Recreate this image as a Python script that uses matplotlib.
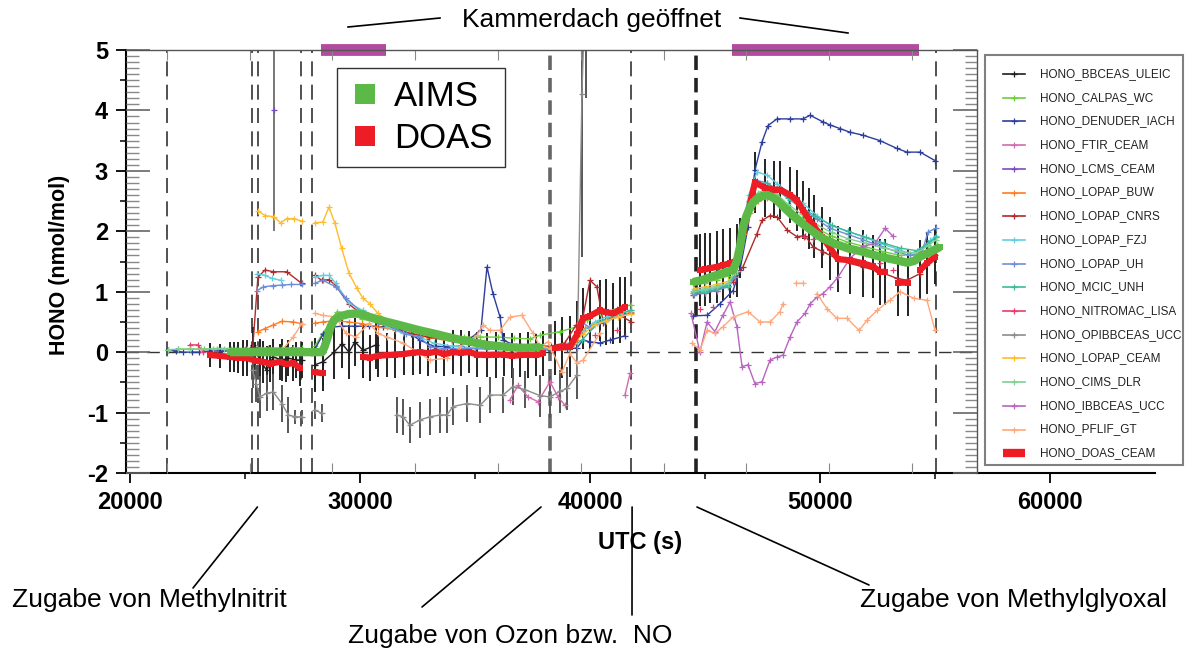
import numpy as np
import matplotlib
matplotlib.use("Agg")
import matplotlib.pyplot as plt
from matplotlib.lines import Line2D
from matplotlib.patches import Rectangle
from matplotlib.ticker import MultipleLocator

plt.rcParams['font.family'] = ['Liberation Sans', 'DejaVu Sans']
plt.rcParams['axes.unicode_minus'] = False

nan = np.nan
GAP = (nan, nan)

# ---- HONO time series: (UTC seconds, nmol/mol) ----
lopap_ceam = [(25560, 2.34), (25870, 2.26), (26260, 2.24), (26550, 2.14), (26810, 2.21), (27130, 2.21), (27460, 2.17), GAP,
              (28040, 2.14), (28380, 2.15), (28650, 2.40), (28910, 2.13), (29200, 1.72), (29520, 1.31), (29860, 1.06),
              (30130, 0.89), (30430, 0.80), (30780, 0.64), (31200, 0.52), (31700, 0.45), (32300, 0.38), (33000, 0.32),
              (33800, 0.26), (34600, 0.20), (35400, 0.16), (36200, 0.14), (37000, 0.12), (37800, 0.12), (38300, 0.05),
              (38800, 0.08), (39300, 0.15), (39700, 0.30), (40200, 0.45), (40700, 0.52), (41200, 0.58), (41800, 0.63), GAP,
              (44500, 1.05), (45000, 1.08), (45500, 1.12), (46000, 1.17), (46400, 1.35), (46700, 1.95), (47000, 2.35),
              (47300, 2.55), (47700, 2.62), (48100, 2.55), (48600, 2.35), (49200, 2.15), (49800, 1.98), (50500, 1.82),
              (51200, 1.72), (52000, 1.65), (52800, 1.58), (53500, 1.53), (54200, 1.55), (54700, 1.68), (55100, 1.78)]

lopap_fzj = [(25530, 1.30), (25870, 1.27), (26170, 1.22), (26550, 1.19), GAP,
             (28040, 1.24), (28380, 1.27), (28650, 1.27), (28950, 1.14), (29520, 0.81), (30130, 0.69), (30430, 0.58),
             (31170, 0.42), (31870, 0.31), (32610, 0.25), (33200, 0.15), (34000, 0.10), (35000, 0.07), (36000, 0.06),
             (37000, 0.05), (38000, 0.05), (38800, 0.10), (39300, 0.20), (39700, 0.35), (40200, 0.50), (40700, 0.58),
             (41300, 0.65), (41800, 0.70), GAP,
             (44500, 1.00), (45000, 1.03), (45500, 1.07), (46000, 1.12), (46300, 1.30), (46600, 2.00), (46900, 2.60),
             (47260, 2.98), (47700, 2.93), (48130, 2.79), (48700, 2.62), (49260, 2.46), (49870, 2.26), (50430, 2.10),
             (51200, 2.00), (51870, 1.91), (52600, 1.80), (53350, 1.71), (53900, 1.63), (54350, 1.69), (54800, 1.85),
             (55050, 1.93)]

lopap_uh = [(25530, 1.02), (25800, 1.08), (26200, 1.10), (26600, 1.11), (27000, 1.12), (27460, 1.12), GAP,
            (28040, 1.14), (28380, 1.19), (28950, 1.08), (29400, 0.89), (30130, 0.64), (30800, 0.50), (31500, 0.40),
            (32000, 0.30), (32600, 0.25), (33040, 0.09), (33600, 0.06), (34500, 0.06), (35500, 0.05), (36500, 0.05),
            (37500, 0.05), (38300, 0.05), (39000, 0.10), (39300, 0.15), (39650, 0.50), (40000, 0.40), (40600, 0.50),
            (41200, 0.58), (41800, 0.65), GAP,
            (44500, 0.95), (45000, 0.98), (45500, 1.02), (46000, 1.08), (46300, 1.25), (46600, 1.90), (46900, 2.50),
            (47260, 2.84), (47700, 2.80), (48130, 2.68), (48700, 2.52), (49260, 2.36), (49870, 2.20), (50430, 2.05),
            (51200, 1.95), (51870, 1.86), (52600, 1.76), (53350, 1.66), (53900, 1.60), (54400, 1.62), (54700, 1.99),
            (55050, 2.05)]

lopap_cnrs = [(25340, 0.09), (25560, 1.24), (25870, 1.36), (26230, 1.33), (26810, 1.33), (27460, 1.14), GAP,
              (28040, 1.27), (28330, 1.19), (28650, 1.20), (28950, 1.10), (29500, 0.80), (30100, 0.62), (30800, 0.48),
              (31500, 0.38), (32300, 0.30), (33000, 0.25), (34000, 0.20), (35000, 0.15), (36000, 0.12), (37000, 0.10),
              (37800, 0.10), (38300, 0.10), (38900, 0.15), (39400, 0.45), (39700, 0.60), (40000, 1.19), (40300, 1.08),
              (40580, 0.48), (41170, 0.64), (41800, 0.50), GAP,
              (44480, 0.95), (45000, 0.98), (45500, 1.02), (46220, 1.16), (46650, 1.41), (47260, 1.96), (47480, 2.18),
              (47830, 2.26), (48130, 2.24), (48570, 2.02), (49000, 1.91), (49350, 1.93), (49700, 1.74), (50130, 1.66),
              (50780, 1.54), (51300, 1.47), (51870, 1.41), (52600, 1.33), (53350, 1.22), (53780, 1.19), (54350, 1.30),
              (55000, 1.60)]

lopap_buw = [(25560, 0.34), (25870, 0.39), (26230, 0.45), (26600, 0.51), (27100, 0.50), (27460, 0.47), GAP,
             (28040, 0.48), (28400, 0.50), (28900, 0.52), (29500, 0.50), (30100, 0.47), (30800, 0.42), (31500, 0.37),
             (32300, 0.30), (33000, 0.24), (34000, 0.18), (35000, 0.15), (36000, 0.12), (37000, 0.10), (37800, 0.08),
             (38300, 0.05), (38900, 0.08), (39400, 0.20), (39800, 0.40), (40300, 0.48), (40800, 0.55), (41300, 0.60),
             (41800, 0.66), GAP,
             (44500, 1.00), (45000, 1.03), (45500, 1.06), (46000, 1.10), (46300, 1.30), (46600, 1.90), (46950, 2.30),
             (47300, 2.50), (47700, 2.55), (48100, 2.50), (48600, 2.30), (49200, 2.10), (49800, 1.95), (50500, 1.80),
             (51200, 1.70), (52000, 1.62), (52800, 1.55), (53500, 1.50), (54200, 1.52), (54700, 1.62), (55050, 1.72)]

denuder_iach = [(21650, 0.03), (22000, 0.02), (22300, 0.00), (22700, 0.00), (23000, 0.00), (23500, 0.02), (24000, 0.02),
                (24500, 0.02), (25000, 0.03), (25500, 0.03), (26000, 0.03), (26500, 0.03), (27000, 0.03), (27460, 0.03), GAP,
                (28040, 0.05), (28400, 0.30), (28700, 0.41), (29200, 0.43), (29800, 0.43), (30400, 0.43), (31000, 0.42),
                (31600, 0.40), (32200, 0.30), (32600, 0.20), (33200, 0.10), (33800, 0.09), (34400, 0.10), (35260, 0.37),
                (35520, 1.41), (35780, 0.97), (36090, 0.58), (36220, 0.20), (36800, 0.10), (37400, 0.08), (37900, 0.05),
                (38300, 0.03), (39000, 0.05), (39430, 0.07), (39700, 0.20), (40000, 0.17), (40430, 0.15), (40870, 0.20),
                (41520, 0.27), GAP,
                (44480, 0.60), (45090, 0.61), (45650, 0.80), (46220, 1.02), (46520, 1.36), (46870, 2.07), (47170, 3.01),
                (47480, 3.48), (47740, 3.75), (48130, 3.86), (48700, 3.86), (49260, 3.86), (49570, 3.92), (50130, 3.81),
                (50430, 3.76), (50870, 3.70), (51300, 3.64), (51870, 3.59), (52610, 3.50), (53350, 3.37), (53780, 3.31),
                (54350, 3.31), (55000, 3.17)]

calpas_wc = [(22100, 0.05), (22600, 0.05), (23200, 0.05), (23800, 0.06), (24400, 0.06), (25000, 0.06), (25500, 0.07),
             (26000, 0.07), (26600, 0.07), (27100, 0.07), (27460, 0.07), GAP,
             (28040, 0.10), (28380, 0.31), (29000, 0.67), (29520, 0.64), (30100, 0.55), (30800, 0.48), (31500, 0.42),
             (32300, 0.35), (33000, 0.30), (33800, 0.27), (34500, 0.25), (35200, 0.25), (36000, 0.25), (36700, 0.23),
             (37400, 0.22), (37830, 0.28), (38700, 0.34), (39430, 0.42), (39870, 0.53), (40430, 0.64), (41170, 0.72),
             (41780, 0.78), GAP,
             (44480, 1.12), (45000, 1.15), (45500, 1.20), (46000, 1.26), (46300, 1.45), (46600, 2.00), (46950, 2.45),
             (47300, 2.62), (47700, 2.68), (48100, 2.60), (48600, 2.42), (49200, 2.22), (49800, 2.06), (50500, 1.92),
             (51200, 1.82), (52000, 1.74), (52800, 1.66), (53500, 1.60), (54200, 1.62), (54700, 1.78), (55050, 1.91)]

mcic_unh = [(38300, 0.06), (39100, 0.05), (39650, 0.20), (40400, 0.50), (41200, 0.62), (41800, 0.69), GAP,
            (44480, 0.98), (45000, 1.00), (45500, 1.04), (46000, 1.10), (46300, 1.30), (46600, 1.95), (46950, 2.50),
            (47300, 2.78), (47700, 2.80), (48100, 2.70), (48600, 2.55), (49200, 2.40), (49800, 2.25), (50500, 2.10),
            (51200, 2.00), (52000, 1.90), (52800, 1.80), (53500, 1.72), (54200, 1.68), (54700, 1.80), (55050, 1.90)]

cims_dlr = [(21650, 0.04), (22100, 0.05), (22600, 0.05), (23100, 0.05), (23600, 0.06), (24100, 0.06), (24600, 0.06),
            (25100, 0.06), GAP,
            (44480, 1.02), (45000, 1.05), (45500, 1.09), (46000, 1.14), (46300, 1.32), (46600, 1.95), (46950, 2.40),
            (47300, 2.64), (47700, 2.70), (48100, 2.62), (48600, 2.45), (49200, 2.28), (49800, 2.12), (50500, 1.98),
            (51200, 1.88), (52000, 1.80), (52800, 1.72), (53500, 1.66), (54200, 1.64), (54700, 1.76), (55050, 1.86)]

pflif_gt = [(26590, 0.03), (27100, 0.25), (27460, 0.47), GAP,
            (28040, 0.64), (28380, 0.61), (28950, 0.58), (29390, 0.31), (29820, 0.25), (30390, 0.48), (30780, 0.31),
            (31170, 0.25), (31870, 0.15), (32610, -0.02), (33040, -0.13), (33780, -0.10), (34350, 0.09), (35090, 0.28),
            (35350, 0.45), (35650, 0.36), (36090, 0.36), (36520, 0.58), (37040, 0.61), (37520, 0.31), (37830, 0.09),
            (38170, 0.17), (38780, -0.33), (39130, -0.02), (39430, -0.18), (39700, -0.13), (40430, 0.31), GAP,
            (44440, 0.15), (44780, 0.03), (45090, 0.36), (45430, 0.31), (45780, 0.42), (46220, 0.58), (46870, 0.67),
            (47390, 0.50), (47830, 0.50), (48260, 0.67), (48390, 0.80), GAP, (48960, 1.14), (49260, 1.14), GAP,
            (49870, 0.97), (50300, 0.72), (50740, 0.56), (51180, 0.56), (51700, 0.36), (52050, 0.53), (52480, 0.69),
            (53040, 0.86), (53480, 1.00), (54090, 0.89), (54650, 0.86), (55000, 0.36)]

ftir_ceam = [(36520, -0.79), (36870, -0.55), (37300, -0.74), (37740, -0.82), (38260, -0.49), (38610, -0.74),
             (38910, -0.88), GAP, (41520, -0.71), (41740, -0.35)]

ibbceas_ucc = [(44390, 0.64), (44780, 0.00), (45090, 0.50), (45430, 0.34), (45780, 0.61), (46090, 0.83), (46390, 0.42),
               (46610, -0.24), (46870, -0.21), (47170, -0.52), (47480, -0.49), (47830, -0.13), (48130, -0.08),
               (48390, -0.05), (48700, 0.25), (49000, 0.50), (49350, 0.64), (49570, 0.80), (49870, 0.91), (50130, 0.97),
               (50430, 1.08), (50780, 1.24), (51300, 1.55), (51870, 1.75), (52390, 1.80), (52830, 2.05), (53170, 1.92)]

nitromac_lisa = [(22600, 0.12), (22960, 0.12), (23170, 0.00), GAP, (40220, 0.28), GAP, (41170, 0.36), GAP,
                 (44780, 0.72), GAP, (45350, 0.75), GAP, (49300, 1.91), GAP, (49700, 1.88), GAP, (52600, 1.47), GAP,
                 (53170, 1.36), GAP, (54350, 1.66)]

# series with error bars: (UTC seconds, nmol/mol, error)
lcms_ceam = [(26260, 4.00, 2.0)]

bbceas_uleic = [(24500, -0.08, 0.25), (24900, -0.10, 0.30), (25340, 0.12, 0.30), (25650, -0.13, 0.35),
                (25940, -0.30, 0.40), (26230, -0.08, 0.30), (26600, -0.13, 0.35), (26880, -0.10, 0.30),
                (27230, -0.13, 0.30), (27460, -0.13, 0.30), (nan, nan, nan),
                (28040, -0.21, 0.45), (28390, -0.16, 0.40), (28870, 0.00, 0.45), (29220, 0.14, 0.40),
                (29520, 0.00, 0.45), (29780, 0.17, 0.40), (30130, 0.03, 0.45), (30700, 0.12, 0.40)]

opibbceas_ucc = [(25340, -0.30, 0.30), (25490, -0.52, 0.30), (25650, -0.74, 0.35), (25940, -0.68, 0.30),
                 (26230, -0.66, 0.30), (26600, -0.85, 0.30), (26880, -1.04, 0.30), (27170, -1.07, 0.12),
                 (27460, -1.07, 0.12), (nan, nan, nan), (28040, -0.96, 0.15), (28330, -1.01, 0.15), (nan, nan, nan),
                 (31610, -1.04, 0.30), (31870, -1.07, 0.30), (32170, -1.21, 0.30), (32610, -1.12, 0.30),
                 (33040, -1.07, 0.30), (33480, -1.04, 0.30), (33780, -1.04, 0.30), (34040, -0.90, 0.30),
                 (34650, -0.85, 0.30), (35220, -0.88, 0.30), (35650, -0.71, 0.30), (36220, -0.71, 0.30),
                 (36650, -0.57, 0.30), (37170, -0.62, 0.30), (37830, -0.72, 0.35), (38260, -0.74, 0.35),
                 (38700, -0.65, 0.35), (39000, -0.60, 0.35), (39430, -0.38, 0.40), (39650, 4.28, 2.70),
                 (39830, 6.50, 2.30)]

doas_ceam = [(23480, -0.05, 0.20), (23900, -0.06, 0.20), (24350, -0.08, 0.25), (24700, -0.09, 0.25),
             (25090, -0.10, 0.30), (25450, -0.14, 0.30), (25780, -0.16, 0.35), (26100, -0.19, 0.30),
             (26520, -0.16, 0.30), (26800, -0.20, 0.30), (27090, -0.18, 0.30), (27390, -0.26, 0.30), (nan, nan, nan),
             (28040, -0.33, 0.30), (28390, -0.35, 0.30), (nan, nan, nan),
             (30130, -0.08, 0.35), (30450, -0.09, 0.38), (30800, -0.06, 0.35), (31170, -0.05, 0.36),
             (31500, -0.04, 0.38), (31900, -0.03, 0.35), (32300, -0.01, 0.37), (32610, 0.00, 0.36),
             (32950, -0.02, 0.38), (33300, 0.01, 0.35), (33650, -0.03, 0.37), (34040, 0.00, 0.36),
             (34400, -0.01, 0.38), (34750, 0.00, 0.35), (35100, -0.04, 0.37), (35520, -0.05, 0.36),
             (35900, -0.04, 0.38), (36250, -0.04, 0.35), (36600, -0.06, 0.37), (36960, -0.05, 0.36),
             (37300, -0.04, 0.38), (37650, -0.05, 0.35), (37960, -0.02, 0.37), (nan, nan, nan),
             (38480, 0.07, 0.45), (38800, 0.08, 0.50), (39130, 0.09, 0.50), (39450, 0.30, 0.55), (39700, 0.56, 0.50),
             (40000, 0.60, 0.55), (40430, 0.69, 0.50), (40700, 0.66, 0.55), (41000, 0.64, 0.50), (41300, 0.70, 0.55),
             (41520, 0.75, 0.50), (nan, nan, nan),
             (44780, 1.36, 0.60), (45000, 1.37, 0.60), (45220, 1.39, 0.58), (45500, 1.41, 0.60), (45780, 1.44, 0.60),
             (46100, 1.47, 0.58), (46390, 1.52, 0.60), (46520, 1.72, 0.50), (47170, 2.81, 0.50), (47600, 2.72, 0.48),
             (48000, 2.69, 0.47), (48260, 2.69, 0.48), (48700, 2.60, 0.47), (49000, 2.51, 0.50), (49260, 2.35, 0.48),
             (49500, 2.21, 0.50), (49740, 2.08, 0.52), (50100, 1.90, 0.50), (50450, 1.72, 0.52), (50780, 1.54, 0.55),
             (51300, 1.52, 0.55), (51870, 1.47, 0.55), (52300, 1.42, 0.52), (52610, 1.33, 0.55), (52830, 1.33, 0.55),
             (nan, nan, nan), (53390, 1.15, 0.55), (53830, 1.15, 0.55), (nan, nan, nan),
             (54350, 1.36, 0.50), (54650, 1.47, 0.50), (55000, 1.58, 0.45)]

aims = [(24350, 0.00), (25000, 0.00), (26000, 0.00), (27000, 0.00), (28000, 0.00), (28350, 0.00), (28450, 0.08),
        (28600, 0.25), (28720, 0.42), (28870, 0.53), (29050, 0.58), (29200, 0.60), (29500, 0.63), (29850, 0.64),
        (30150, 0.62), (30430, 0.58), (30800, 0.54), (31170, 0.50), (31600, 0.46), (32000, 0.42), (32600, 0.36),
        (33300, 0.30), (34040, 0.23), (34800, 0.17), (35520, 0.12), (36300, 0.09), (36960, 0.07), (37830, 0.08), GAP,
        (44480, 1.16), (44850, 1.19), (45220, 1.24), (45700, 1.30), (46220, 1.36), (46380, 1.50), (46520, 1.74),
        (46650, 2.07), (46800, 2.25), (46960, 2.40), (47100, 2.48), (47260, 2.54), (47480, 2.58), (47700, 2.60),
        (47900, 2.57), (48130, 2.51), (48400, 2.41), (48700, 2.30), (49050, 2.18), (49430, 2.07), (49780, 1.97),
        (50130, 1.88), (50600, 1.80), (51200, 1.72), (51870, 1.66), (52600, 1.58), (53350, 1.52), (53780, 1.48),
        (54100, 1.51), (54350, 1.58), (54800, 1.66), (55220, 1.74)]

# experiment events (UTC seconds)
event_lines = [21600, 25300, 25560, 27430, 27900, 41800, 55050]
event_lines_heavy = [38250, 44600]
roof_open_start = [28300, 46170]
roof_open_end = [31130, 54300]

x_ticks = [20000, 30000, 40000, 50000, 60000]
y_ticks = [-2, -1, 0, 1, 2, 3, 4, 5]

T_LEFT, T_FRAME_END, T_AXIS_END = 19826, 56830, 64565

legend_series = [
    ("HONO_BBCEAS_ULEIC", bbceas_uleic, "#1e1e1e"),
    ("HONO_CALPAS_WC", calpas_wc, "#6ccf3c"),
    ("HONO_DENUDER_IACH", denuder_iach, "#2c3d9e"),
    ("HONO_FTIR_CEAM", ftir_ceam, "#d06cae"),
    ("HONO_LCMS_CEAM", lcms_ceam, "#7a4cc2"),
    ("HONO_LOPAP_BUW", lopap_buw, "#ff7b22"),
    ("HONO_LOPAP_CNRS", lopap_cnrs, "#b02a2a"),
    ("HONO_LOPAP_FZJ", lopap_fzj, "#62cfe0"),
    ("HONO_LOPAP_UH", lopap_uh, "#6d8ddb"),
    ("HONO_MCIC_UNH", mcic_unh, "#3dbb98"),
    ("HONO_NITROMAC_LISA", nitromac_lisa, "#ec3a6c"),
    ("HONO_OPIBBCEAS_UCC", opibbceas_ucc, "#8c8c8c"),
    ("HONO_LOPAP_CEAM", lopap_ceam, "#ffbc2c"),
    ("HONO_CIMS_DLR", cims_dlr, "#80d090"),
    ("HONO_IBBCEAS_UCC", ibbceas_ucc, "#b865c0"),
    ("HONO_PFLIF_GT", pflif_gt, "#ffa87c"),
]
DOAS_COLOR = "#ee1c24"
AIMS_COLOR = "#5cb947"
ROOF_COLOR = "#b24a9f"

W, H = 1190, 653
fig = plt.figure(figsize=(W / 100, H / 100), dpi=100)


def px_box(x0, x1, ytop, ybot):
    return [x0 / W, 1 - ybot / H, (x1 - x0) / W, (ybot - ytop) / H]


def fx(x):
    return x / W


def fy(y):
    return 1 - y / H


ax = fig.add_axes(px_box(126, 1155, 50, 473))
ax.set_xlim(T_LEFT, T_AXIS_END)
ax.set_ylim(-2, 5)


def errbars(rows, color):
    arr = np.array(rows, dtype=float)
    ok = ~np.isnan(arr[:, 1])
    ax.errorbar(arr[ok, 0], arr[ok, 1], yerr=arr[ok, 2], fmt='none', ecolor=color,
                elinewidth=1.4, capsize=0, zorder=2.6)


# event markers and zero line
for t in event_lines:
    ax.axvline(t, color='#333333', lw=1.2, dashes=(9, 5), zorder=1)
ax.axvline(event_lines_heavy[0], color='#666666', lw=2.6, dashes=(4, 2.2), zorder=1)
ax.axvline(event_lines_heavy[1], color='#222222', lw=2.6, dashes=(4, 2.2), zorder=1)
ax.hlines(0, T_LEFT, T_FRAME_END, colors='#333333', lw=1.0, linestyles=(0, (9, 6)), zorder=1)

# error bars
errbars(doas_ceam, '#222222')
errbars(bbceas_uleic, '#222222')
errbars(opibbceas_ucc, '#555555')
errbars(lcms_ceam, '#777777')

# instrument lines
for name, rows, color in legend_series:
    arr = np.array(rows, dtype=float)
    ax.plot(arr[:, 0], arr[:, 1], color=color, lw=1.0, marker='+', ms=4.5, mew=0.9, zorder=3)

doas = np.array(doas_ceam, dtype=float)
ax.plot(doas[:, 0], doas[:, 1], color=DOAS_COLOR, lw=4.5, marker='s', ms=4.5, mew=0,
        solid_capstyle='butt', zorder=4)
aims_arr = np.array(aims, dtype=float)
ax.plot(aims_arr[:, 0], aims_arr[:, 1], color=AIMS_COLOR, lw=6, marker='s', ms=5, mew=0,
        solid_capstyle='butt', solid_joinstyle='round', zorder=5)

# chamber roof open periods
ax.hlines([5] * len(roof_open_start), roof_open_start, roof_open_end, colors=ROOF_COLOR,
          lw=8.5, clip_on=False, zorder=6)

# main axes styling
for side in ('top', 'right'):
    ax.spines[side].set_visible(False)
for side in ('left', 'bottom'):
    ax.spines[side].set_linewidth(1.5)
ax.set_xticks(x_ticks)
ax.set_xticklabels([str(v) for v in x_ticks], fontweight='bold')
ax.set_yticks(y_ticks)
ax.set_yticklabels([str(v) for v in y_ticks], fontweight='bold')
ax.xaxis.set_minor_locator(MultipleLocator(5000))
ax.yaxis.set_minor_locator(MultipleLocator(0.5))
ax.tick_params(which='major', direction='out', length=7, width=1.3, labelsize=17, pad=6)
ax.tick_params(which='minor', direction='out', length=4, width=1.1)

# inner frame with inward ticks
frame = fig.add_axes(px_box(126, 977, 50, 473))
frame.set_xlim(T_LEFT, T_FRAME_END)
frame.set_ylim(-2, 5)
frame.patch.set_visible(False)
frame.spines['left'].set_visible(False)
frame.spines['bottom'].set_visible(False)
for side in ('top', 'right'):
    frame.spines[side].set_color('#555555')
    frame.spines[side].set_linewidth(1.0)
frame.xaxis.set_major_locator(MultipleLocator(3600))
frame.yaxis.set_major_locator(MultipleLocator(1))
frame.yaxis.set_minor_locator(MultipleLocator(0.1))
frame.tick_params(axis='x', which='major', direction='in', top=True, bottom=True, length=7,
                  color='#888888', labelbottom=False, labeltop=False)
frame.tick_params(axis='y', which='major', direction='in', left=True, right=True, length=17,
                  width=1.2, color='#666666', labelleft=False)
frame.tick_params(axis='y', which='minor', direction='in', left=True, right=True, length=9,
                  width=1.0, color='#888888')

# axis titles
fig.text(fx(60), fy(265), "HONO (nmol/mol)", rotation=90, ha='center', va='center',
         fontsize=15.5, fontweight='bold')
fig.text(fx(640), fy(543), "UTC (s)", ha='center', va='center', fontsize=17, fontweight='bold')

# roof annotation
fig.text(fx(592), fy(20), "Kammerdach geöffnet", ha='center', va='center', fontsize=19)
fig.add_artist(Line2D([fx(348), fx(440)], [fy(27), fy(18)], color='black', lw=1.2))
fig.add_artist(Line2D([fx(740), fx(848)], [fy(18), fy(33)], color='black', lw=1.2))

# addition annotations below the time axis
fig.text(fx(12), fy(600), "Zugabe von Methylnitrit", ha='left', va='center', fontsize=19)
fig.text(fx(348), fy(636), "Zugabe von Ozon bzw.  NO", ha='left', va='center', fontsize=19)
fig.text(fx(860), fy(600), "Zugabe von Methylglyoxal", ha='left', va='center', fontsize=19)
leaders = [(25540, 193, 588), (37870, 422, 607), (41830, 632, 615), (44650, 869, 585)]
for t, x_txt, y_txt in leaders:
    ax.annotate('', xy=(t, H - 507), xycoords=('data', 'figure pixels'),
                xytext=(x_txt, H - y_txt), textcoords='figure pixels',
                arrowprops=dict(arrowstyle='-', color='black', lw=1.2, shrinkA=0, shrinkB=0),
                annotation_clip=False)

# instrument legend, laid out row by row in a boxed panel
fig.add_artist(Rectangle((fx(985), fy(465)), fx(1183) - fx(985), fy(55) - fy(465),
                         transform=fig.transFigure, facecolor='white', edgecolor='#808080', lw=1.5))
rows = [(n, c, 'thin') for n, _, c in legend_series] + [("HONO_DOAS_CEAM", DOAS_COLOR, 'thick')]
for i, (name, color, kind) in enumerate(rows):
    y = fy(74 + i * 23.7)
    if kind == 'thin':
        fig.add_artist(Line2D([fx(1003), fx(1025)], [y, y], color=color, lw=1.2))
        fig.add_artist(Line2D([fx(1014)], [y], color=color, marker='+', ms=5, mew=0.9, ls='none'))
    else:
        fig.add_artist(Line2D([fx(1003), fx(1025)], [y, y], color=color, lw=6, solid_capstyle='butt'))
    fig.text(fx(1040), y, name, ha='left', va='center', fontsize=8.5, color='#222222')

# AIMS / DOAS key
key = fig.legend([Line2D([], [], ls='none', marker='s', ms=14, color=AIMS_COLOR, mew=0),
                  Line2D([], [], ls='none', marker='s', ms=14, color=DOAS_COLOR, mew=0)],
                 ["AIMS", "DOAS"], loc='upper left', bbox_to_anchor=(fx(337), fy(68)),
                 frameon=True, fancybox=False, fontsize=25, handlelength=0.9, handletextpad=0.4,
                 labelspacing=0.25, borderpad=0.35, borderaxespad=0)
key.get_frame().set_edgecolor('black')
key.get_frame().set_linewidth(1.0)

fig.savefig("out.png", dpi=100)
